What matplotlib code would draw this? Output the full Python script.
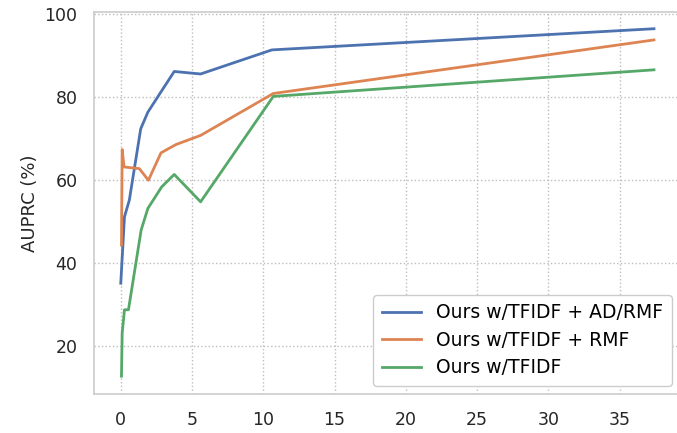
import matplotlib.pyplot as plt

# AUPRC per setting
x_adrmf = [0.0, 0.26, 0.6, 1.4, 1.9, 3.75, 5.6, 10.6, 37.4]
y_adrmf = [35.2, 51.2, 55.2, 72.4, 76.4, 86.2, 85.6, 91.4, 96.5]

x_rmf = [0.05, 0.1, 0.23, 1.3, 1.94, 2.82, 3.87, 5.6, 10.7, 37.4]
y_rmf = [44.4, 67.4, 63.2, 62.8, 60.0, 66.6, 68.6, 70.8, 80.9, 93.8]

x_tfidf = [0.05, 0.1, 0.26, 0.54, 1.43, 1.9, 2.87, 3.75, 5.6, 10.7, 37.4]
y_tfidf = [12.8, 23.2, 28.8, 28.8, 48.0, 53.2, 58.4, 61.4, 54.8, 80.2, 86.6]

labels = ['Ours w/TFIDF + AD/RMF', 'Ours w/TFIDF + RMF', 'Ours w/TFIDF']
colors = ['#4C72B0', '#DD8452', '#55A868']

fig = plt.figure(figsize=(6.77, 4.33), dpi=100)
ax = fig.add_axes([0.139, 0.090, 0.867, 0.882])

ax.plot(x_adrmf, y_adrmf, color=colors[0], lw=2, label=labels[0])
ax.plot(x_rmf, y_rmf, color=colors[1], lw=2, label=labels[1])
ax.plot(x_tfidf, y_tfidf, color=colors[2], lw=2, label=labels[2])

ax.set_xticks(range(0, 40, 5))
ax.set_yticks(range(20, 101, 20))
ax.set_xlim(-1.87, 39.3)
ax.set_ylim(8.5, 100.5)
ax.grid(True, linestyle=':', color='#bdbdbd', lw=1.0)
for s in ax.spines.values():
    s.set_color('#cccccc')
    s.set_linewidth(1.2)
ax.tick_params(length=0, labelsize=12.5, pad=12, colors='#262626')
ax.set_ylabel('AUPRC (%)', fontsize=13, color='#262626')

leg = ax.legend(loc='lower right', fontsize=13.5, handlelength=2.1,
                handletextpad=0.8, borderpad=0.45, labelspacing=0.45,
                borderaxespad=0.45, framealpha=1, edgecolor='#cccccc',
                bbox_to_anchor=(0.9985, 0.0))

fig.savefig('out.png', dpi=100)
